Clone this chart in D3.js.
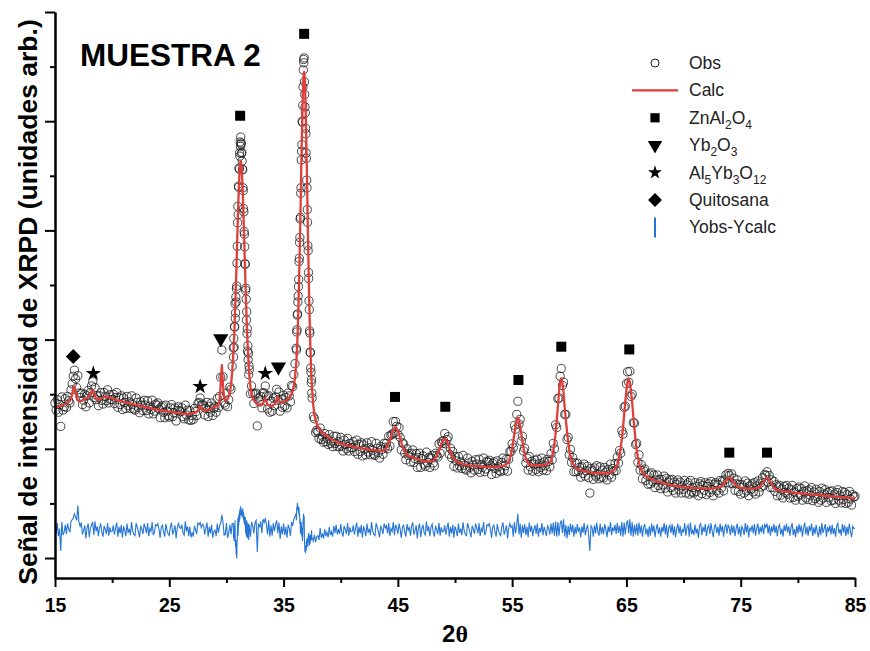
<!DOCTYPE html>
<html lang="es">
<head>
<meta charset="utf-8">
<title>Muestra 2 - XRPD</title>
<script src="https://d3js.org/d3.v7.min.js"></script>
<style>
body { margin: 0; background: #fff; }
text { font-family: "Liberation Sans", Arial, sans-serif; }
</style>
</head>
<body>
<script>

/////////////////// Data //////////////
// step scan segments: [from, to, step] (finer steps on the two main peaks)
var scanSteps = [
  [15.0, 30.6, 0.1],
  [30.6, 32.0, 0.025],
  [32.0, 36.1, 0.1],
  [36.1, 37.5, 0.025],
  [37.5, 85.0, 0.1]
];
var lastAngle = 85.0;

// Ycalc (arb. counts), one value per scan point
var calc = [
  276,277,277,278,278,279,280,280,281,282,
  283,284,286,288,292,300,311,314,304,294,
  289,288,287,288,289,290,291,292,293,295,
  297,300,305,308,303,296,292,290,290,291,
  292,293,294,295,295,295,295,294,294,293,
  292,291,291,290,289,288,288,287,287,286,
  286,285,285,284,284,283,283,282,282,281,
  281,280,280,279,279,278,278,277,277,276,
  276,275,275,275,274,274,273,273,272,272,
  272,271,271,270,270,270,269,269,269,268,
  268,268,267,267,267,266,266,266,265,265,
  265,265,264,264,264,264,264,264,264,265,
  265,266,266,267,268,270,275,279,275,271,
  270,270,270,271,271,272,273,274,275,276,
  277,278,280,281,288,319,353,317,293,288,
  289,291,296,303,317,339,
  // 30.600 - 31.975
  373,383,394,406,419,433,448,464,
  479,496,514,531,550,568,586,604,
  622,639,656,671,684,697,707,716,
  722,726,727,726,722,716,707,697,
  684,671,656,639,622,604,586,568,
  550,531,514,496,479,464,448,433,
  419,406,394,383,373,363,354,347,
  // 32.0 - 36.0
  335,313,300,294,289,286,284,282,281,281,
  280,280,283,288,293,287,281,279,279,278,
  279,280,281,285,291,295,290,285,284,284,
  286,287,288,289,292,294,297,301,306,316,
  331,
  // 36.100 - 37.475
  354,363,372,383,395,409,424,440,
  459,480,501,524,548,575,601,629,
  658,686,714,743,769,795,818,839,
  858,872,883,889,890,887,879,866,
  850,829,805,780,752,724,693,663,
  633,602,573,545,517,491,467,444,
  422,402,384,368,352,339,327,317,
  // 37.5 - 85.0
  307,279,263,252,246,
  241,237,234,231,229,227,226,224,223,221,
  220,219,217,216,215,215,213,212,211,211,
  210,209,208,208,207,207,206,206,205,205,
  204,204,203,203,202,202,202,201,201,201,
  200,200,200,199,199,199,198,198,198,198,
  198,197,196,196,196,196,197,197,198,199,
  202,206,210,216,222,229,235,238,240,237,
  233,227,219,212,205,200,195,192,189,188,
  186,186,185,184,183,183,182,181,180,180,
  179,179,177,177,177,178,177,177,177,177,
  177,178,181,184,187,192,196,202,208,213,
  217,219,217,213,208,202,195,190,185,182,
  179,178,176,174,174,173,173,173,171,171,
  171,170,169,169,169,169,168,168,168,168,
  168,168,168,168,168,168,167,167,167,167,
  167,167,167,167,167,167,167,167,167,167,
  168,168,169,169,170,172,174,177,183,190,
  201,214,228,242,253,257,253,242,228,214,
  201,190,183,177,174,172,170,169,170,170,
  170,169,169,170,169,170,170,170,170,171,
  171,173,174,175,179,186,196,210,228,251,
  277,303,321,329,321,302,275,253,232,213,
  198,187,179,174,170,168,165,163,162,161,
  161,160,160,159,159,158,158,158,157,156,
  156,156,156,156,155,156,155,155,155,155,
  155,155,155,156,155,156,157,157,159,161,
  163,167,172,179,189,202,218,239,262,286,
  307,323,328,322,306,285,260,237,216,198,
  185,175,167,162,157,155,152,150,149,148,
  147,146,144,144,143,142,141,141,140,139,
  139,138,137,137,136,136,135,135,134,134,
  133,133,132,132,132,131,131,131,130,130,
  130,129,129,129,129,129,128,128,128,128,
  128,128,128,128,128,128,127,127,127,127,
  127,127,127,127,127,127,127,128,128,128,
  129,129,130,131,133,135,138,141,144,146,
  147,146,144,141,138,135,133,131,130,129,
  129,128,128,128,128,127,127,127,127,127,
  127,127,127,127,128,129,129,131,134,137,
  140,143,146,146,145,142,139,136,132,129,
  127,126,125,124,123,123,123,122,122,122,
  121,121,121,120,120,120,120,119,119,119,
  119,119,119,118,118,118,118,118,117,117,
  117,117,117,116,116,116,116,116,115,115,
  115,115,115,114,114,114,114,114,113,113,
  113,113,113,112,112,112,112,112,111,111,
  111,111,111,110,110,110,110,110,109,109,
  109
];

// Yobs (arb. counts), same scan points
var obs = [
  284,271,290,267,281,241,295,271,277,292,
  276,296,288,284,308,319,333,344,328,312,
  334,302,294,302,281,289,300,277,297,307,
  284,303,315,323,294,312,290,297,279,297,
  303,289,282,303,296,288,308,284,299,290,
  290,300,283,294,303,276,294,281,297,272,
  293,285,274,296,279,286,274,297,281,273,
  271,293,285,276,266,286,280,270,289,280,
  270,288,264,278,272,289,264,269,282,280,
  284,273,257,276,279,267,257,280,269,261,
  258,275,281,259,266,275,251,270,277,270,
  268,275,259,255,280,262,271,253,270,252,
  261,254,274,268,261,283,285,293,280,282,
  279,262,274,285,259,278,267,284,261,274,
  277,267,292,276,296,331,381,332,284,280,
  302,277,290,313,309,351,
  // 30.600 - 31.975
  385,368,402,386,424,423,466,439,
  449,478,469,493,498,540,571,614,
  644,629,681,679,714,712,742,736,
  762,754,771,758,760,741,743,727,
  712,711,678,673,640,634,598,593,
  570,539,538,490,494,474,436,451,
  411,420,379,389,363,375,336,352,
  // 32.0 - 36.0
  345,301,315,302,283,300,302,242,293,286,
  296,275,303,302,315,297,273,297,267,287,
  269,293,279,295,309,289,304,269,291,276,
  298,278,294,275,302,297,286,316,314,336,
  356,
  // 36.100 - 37.475
  384,381,414,418,445,447,469,480,
  497,510,543,549,578,587,621,624,
  668,678,729,745,757,800,798,829,
  863,894,913,907,916,872,849,826,
  815,787,777,742,732,692,678,638,
  615,572,563,523,512,471,455,416,
  412,377,376,348,340,321,327,302,
  // 37.5 - 85.0
  293,259,255,230,234,
  231,219,238,217,223,212,228,213,219,208,
  226,210,214,204,223,210,223,204,213,204,
  221,205,196,216,208,200,219,196,210,202,
  202,213,195,207,216,190,208,195,211,187,
  207,200,189,211,194,202,189,213,197,190,
  188,210,201,193,183,204,199,190,210,203,
  210,200,223,205,225,227,250,229,250,241,
  226,239,221,198,211,209,192,180,200,188,
  191,176,192,198,175,182,191,166,184,192,
  166,182,187,172,168,194,175,184,166,183,
  188,174,169,192,188,185,209,192,213,210,
  215,228,209,217,222,190,201,184,195,168,
  186,178,165,186,169,176,164,188,170,163,
  161,183,174,166,156,177,170,161,180,172,
  162,181,157,171,166,183,158,163,177,175,
  179,169,153,173,176,164,155,178,167,160,
  158,175,183,161,169,181,159,181,195,195,
  209,202,243,236,263,287,245,254,214,223,
  196,201,174,183,161,186,167,177,159,172,
  179,162,181,158,173,166,183,161,176,169,
  160,181,177,167,191,180,210,200,244,239,
  292,293,333,347,316,322,263,263,217,221,
  189,199,175,184,158,174,158,174,159,166,
  148,167,155,172,150,160,168,147,119,164,
  160,144,165,150,169,153,145,167,148,161,
  147,166,157,143,162,152,172,148,164,159,
  173,160,185,174,197,192,233,227,276,278,
  319,341,322,342,296,300,248,247,208,210,
  175,189,161,171,145,160,163,142,152,135,
  154,136,156,140,152,129,143,152,133,144,
  127,144,134,150,128,146,121,139,143,129,
  144,124,139,119,135,143,125,139,119,132,
  126,142,119,134,138,117,142,121,129,119,
  138,122,131,114,136,140,118,133,124,138,
  116,131,136,120,140,125,114,135,138,123,
  135,119,142,128,141,123,143,152,138,155,
  151,137,154,136,146,124,136,143,122,135,
  117,135,130,119,141,123,137,114,132,126,
  136,121,138,117,132,141,121,137,130,147,
  133,153,151,158,139,151,129,143,129,140,
  122,134,114,130,133,115,126,110,131,120,
  133,117,128,110,125,133,111,121,106,127,
  113,130,116,127,106,122,132,110,123,107,
  125,115,129,105,121,109,126,112,102,122,
  106,128,110,117,125,102,120,111,122,105,
  123,106,117,100,120,125,106,114,101,122,
  107,120,100,116,102,122,108,97,116,112,
  113
];

// Bragg markers: [2theta, counts where the symbol sits]
var znal2o4Marks = [[31.2, 810], [36.8, 960], [44.75, 295], [49.15, 277], [55.55, 326], [59.3, 387], [65.25, 382], [74.0, 193], [77.3, 193]];
var yb2o3Marks = [[29.5, 402], [34.55, 350]];
var al5yb3o12Marks = [[18.35, 338], [27.7, 314], [33.4, 338]];
var quitosanaMarks = [[16.6, 369]];

var diffOffset = 51;   // Yobs-Ycalc drawn around this level

var xTicksMajor = [15, 25, 35, 45, 55, 65, 75, 85];
var xTicksMinor = [20, 30, 40, 50, 60, 70, 80];
var yTicksMajor = [0, 200, 400, 600, 800, 1000];
var yTicksMinor = [100, 300, 500, 700, 900];

var legendLabels = [
  [["Obs", 0]],
  [["Calc", 0]],
  [["ZnAl", 0], ["2", 1], ["O", 0], ["4", 1]],
  [["Yb", 0], ["2", 1], ["O", 0], ["3", 1]],
  [["Al", 0], ["5", 1], ["Yb", 0], ["3", 1], ["O", 0], ["12", 1]],
  [["Quitosana", 0]],
  [["Yobs-Ycalc", 0]]
];

/////////////////// Var //////////////
var width = 870;
var height = 651;
var red = "#de3f3b";
var blue = "#2575d6";

var twoTheta = [];
scanSteps.forEach(function(s) {
  var n = Math.round((s[1] - s[0]) / s[2]);
  for (var i = 0; i < n; i++) twoTheta.push(+(s[0] + i * s[2]).toFixed(3));
});
twoTheta.push(lastAngle);
if (twoTheta.length != calc.length || twoTheta.length != obs.length) {
  console.error("length mismatch", twoTheta.length, calc.length, obs.length);
}

var pts = twoTheta.map(function(t, i) {
  return {t: t, obs: obs[i], calc: calc[i]};
});

var x = d3.scaleLinear().domain([15, 85]).range([55, 855]);
var y = d3.scaleLinear().domain([-36.6, 1000]).range([578, 12]);

var svg = d3.select("body")
  .append("svg")
  .attr("width", width)
  .attr("height", height);

//============================== Difference
var diffLine = d3.line()
  .x(function(d) { return x(d.t); })
  .y(function(d) { return y(d.obs - d.calc + diffOffset); });

svg.append("path")
  .datum(pts)
  .attr("d", diffLine)
  .attr("fill", "none")
  .attr("stroke", blue)
  .attr("stroke-width", 1.1);

//============================== Obs circles
svg.append("g")
  .selectAll("circle")
  .data(pts)
  .enter()
  .append("circle")
  .attr("cx", function(d) { return x(d.t); })
  .attr("cy", function(d) { return y(d.obs); })
  .attr("r", 4.1)
  .attr("fill", "none")
  .attr("stroke", "#1a1a1a")
  .attr("stroke-width", 0.8);

//============================== Calc line
var calcLine = d3.line()
  .x(function(d) { return x(d.t); })
  .y(function(d) { return y(d.calc); });

svg.append("path")
  .datum(pts)
  .attr("d", calcLine)
  .attr("fill", "none")
  .attr("stroke", red)
  .attr("stroke-width", 2.3)
  .attr("stroke-linejoin", "round");

//============================== Phase markers
var sqSym = d3.symbol().type(d3.symbolSquare).size(100);
var triSym = d3.symbol().type(d3.symbolTriangle).size(100);
var starSym = d3.symbol().type(d3.symbolStar).size(75);
var diaSym = d3.symbol().type(d3.symbolSquare).size(110);

function drawMarks(data, sym, rot) {
  svg.append("g")
    .selectAll("path")
    .data(data)
    .enter()
    .append("path")
    .attr("d", sym)
    .attr("fill", "#000")
    .attr("transform", function(d) {
      return "translate(" + x(d[0]) + "," + y(d[1]) + ") rotate(" + rot + ")";
    });
}
drawMarks(znal2o4Marks, sqSym, 0);
drawMarks(yb2o3Marks, triSym, 180);
drawMarks(al5yb3o12Marks, starSym, 0);
drawMarks(quitosanaMarks, diaSym, 45);

//============================== Axes
function styleAxis(g) {
  g.select(".domain").attr("stroke", "#000").attr("stroke-width", 2);
  g.selectAll(".tick line").attr("stroke", "#000").attr("stroke-width", 2);
}

var xAxis = svg.append("g")
  .attr("transform", "translate(0,578)")
  .call(d3.axisBottom(x).tickValues(xTicksMajor).tickSize(9).tickSizeOuter(0).tickFormat(d3.format("d")));
styleAxis(xAxis);
xAxis.selectAll("text")
  .attr("y", 20)
  .attr("fill", "#000")
  .style("font-family", "'Liberation Sans', Arial, sans-serif")
  .style("font-size", "19.5px")
  .style("font-weight", "bold");

var xMinor = svg.append("g")
  .attr("transform", "translate(0,578)")
  .call(d3.axisBottom(x).tickValues(xTicksMinor).tickSize(5).tickSizeOuter(0).tickFormat(""));
styleAxis(xMinor);

var yAxis = svg.append("g")
  .attr("transform", "translate(55,0)")
  .call(d3.axisLeft(y).tickValues(yTicksMajor).tickSize(10).tickSizeOuter(0).tickFormat(""));
styleAxis(yAxis);

var yMinor = svg.append("g")
  .attr("transform", "translate(55,0)")
  .call(d3.axisLeft(y).tickValues(yTicksMinor).tickSize(5).tickSizeOuter(0).tickFormat(""));
styleAxis(yMinor);

//============================== Titles
var xTitle = svg.append("text")
  .attr("x", 455)
  .attr("y", 642)
  .attr("text-anchor", "middle")
  .style("font-size", "24px")
  .style("font-weight", "bold");
xTitle.append("tspan").text("2");
xTitle.append("tspan").style("font-family", "'Liberation Serif', 'Times New Roman', serif").text("θ");

svg.append("text")
  .attr("transform", "translate(37,302) rotate(-90)")
  .attr("text-anchor", "middle")
  .style("font-size", "26.5px")
  .style("font-weight", "bold")
  .text("Señal de intensidad de XRPD (unidades arb.)");

svg.append("text")
  .attr("x", 80)
  .attr("y", 66)
  .style("font-size", "31.5px")
  .style("font-weight", "bold")
  .text("MUESTRA 2");

//============================== Legend
var lgX = 655, lgY = 63, lgStep = 27.4;
var legend = svg.append("g").attr("class", "legend");

legend.append("circle")
  .attr("cx", lgX).attr("cy", lgY).attr("r", 4)
  .attr("fill", "none").attr("stroke", "#222").attr("stroke-width", 1);
legend.append("line")
  .attr("x1", lgX - 23).attr("x2", lgX + 23)
  .attr("y1", lgY + lgStep).attr("y2", lgY + lgStep)
  .attr("stroke", red).attr("stroke-width", 2.3);
legend.append("path").attr("d", d3.symbol().type(d3.symbolSquare).size(85))
  .attr("transform", "translate(" + lgX + "," + (lgY + 2 * lgStep) + ")");
legend.append("path").attr("d", d3.symbol().type(d3.symbolTriangle).size(90))
  .attr("transform", "translate(" + lgX + "," + (lgY + 3 * lgStep) + ") rotate(180)");
legend.append("path").attr("d", d3.symbol().type(d3.symbolStar).size(60))
  .attr("transform", "translate(" + lgX + "," + (lgY + 4 * lgStep) + ")");
legend.append("path").attr("d", d3.symbol().type(d3.symbolSquare).size(95))
  .attr("transform", "translate(" + lgX + "," + (lgY + 5 * lgStep) + ") rotate(45)");
legend.append("line")
  .attr("x1", lgX).attr("x2", lgX)
  .attr("y1", lgY + 6 * lgStep - 10).attr("y2", lgY + 6 * lgStep + 10)
  .attr("stroke", blue).attr("stroke-width", 2);

legendLabels.forEach(function(parts, i) {
  var t = legend.append("text")
    .attr("x", 689)
    .attr("y", lgY + i * lgStep + 6)
    .attr("fill", "#222")
    .style("font-size", "17.5px");
  var down = false;
  parts.forEach(function(p) {
    var ts = t.append("tspan").text(p[0]);
    if (p[1] && !down) { ts.attr("dy", 5).style("font-size", "12px"); down = true; }
    else if (p[1]) { ts.style("font-size", "12px"); }
    else if (down) { ts.attr("dy", -5); down = false; }
  });
});

</script>
</body>
</html>
